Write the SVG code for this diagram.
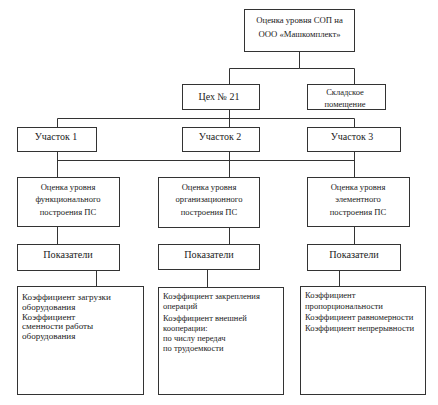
<svg xmlns="http://www.w3.org/2000/svg" width="438" height="405" viewBox="0 0 438 405">
<style>
rect{fill:#fff;stroke:#333;stroke-width:1}
text{font-family:"Liberation Serif","Times New Roman",serif;fill:#222}
.c{text-anchor:middle}
.t{font-size:8.7px}
.s{font-size:8.5px}
.m{font-size:10px}
.p{font-size:10.2px}
.b{font-size:8.6px}
.k1{font-size:9.1px}
.k2{font-size:8.5px}
#connectors path{fill:none;stroke:#333;stroke-width:1}
</style>
<rect x="0" y="0" width="438" height="405" style="fill:#fff;stroke:none"/>
<g id="connectors">
<path d="M299.5 51V68.5H229.5V84M299.5 68.5H354.5V84"/>
<path d="M229.5 109V118.5M57.5 127V118.5H354.5V127M229.5 118.5V127"/>
<path d="M57.5 151V177M229.5 151V177M354.5 151V177M57.5 160.5H354.5"/>
<path d="M57.5 226V244M229.5 227V244M354.5 226V244"/>
<path d="M96.5 270V286M207.5 269V287M339.5 270V286"/>
</g>
<g id="top"><rect x="244.5" y="9.5" width="110" height="42"/>
<text class="c t" x="299.5" y="23">Оценка уровня СОП на</text>
<text class="c t" x="299.5" y="36.5">ООО «Машкомплект»</text></g>
<g id="ceh"><rect x="182.5" y="84.5" width="77" height="25"/>
<text class="c m" x="219" y="100.3">Цех № 21</text></g>
<g id="sklad"><rect x="307.5" y="84.5" width="78" height="25"/>
<text class="c s" x="345" y="95.3">Складское</text>
<text class="c s" x="345" y="106.5">помещение</text></g>
<g id="u1"><rect x="17.5" y="127.5" width="79" height="24"/>
<text class="c m" x="56" y="140.3">Участок 1</text></g>
<g id="u2"><rect x="182.5" y="127.5" width="77" height="24"/>
<text class="c m" x="220" y="140.3">Участок 2</text></g>
<g id="u3"><rect x="307.5" y="127.5" width="93" height="24"/>
<text class="c m" x="352" y="140.3">Участок 3</text></g>
<g id="o1"><rect x="17.5" y="177.5" width="102" height="49"/>
<text class="c b" x="68" y="189.5">Оценка уровня</text>
<text class="c b" x="68" y="202">функционального</text>
<text class="c b" x="68" y="214.5">построения ПС</text></g>
<g id="o2"><rect x="158.5" y="177.5" width="101" height="50"/>
<text class="c b" x="209" y="189.5">Оценка уровня</text>
<text class="c b" x="209" y="202">организационного</text>
<text class="c b" x="209" y="214.5">построения ПС</text></g>
<g id="o3"><rect x="307.5" y="177.5" width="102" height="49"/>
<text class="c b" x="358" y="189.5">Оценка уровня</text>
<text class="c b" x="358" y="202">элементного</text>
<text class="c b" x="358" y="214.5">построения ПС</text></g>
<g id="p1"><rect x="17.5" y="244.5" width="102" height="26"/>
<text class="c p" x="68" y="258.3">Показатели</text></g>
<g id="p2"><rect x="158.5" y="244.5" width="101" height="25"/>
<text class="c p" x="209" y="258">Показатели</text></g>
<g id="p3"><rect x="307.5" y="244.5" width="93" height="26"/>
<text class="c p" x="354" y="258.3">Показатели</text></g>
<g id="k1"><rect x="17.5" y="286.5" width="126" height="108"/>
<text class="k1" x="22" y="299.5">Коэффициент загрузки</text>
<text class="k1" x="22" y="309.5">оборудования</text>
<text class="k1" x="22" y="319.5">Коэффициент</text>
<text class="k1" x="22" y="329">сменности работы</text>
<text class="k1" x="22" y="338.5">оборудования</text></g>
<g id="k2"><rect x="158.5" y="287.5" width="125" height="107"/>
<text class="k2" x="163" y="298.5">Коэффициент закрепления</text>
<text class="k2" x="163" y="309">операций</text>
<text class="k2" x="163" y="320.5">Коэффициент внешней</text>
<text class="k2" x="163" y="330.5">кооперации:</text>
<text class="k2" x="163" y="341">по числу передач</text>
<text class="k2" x="163" y="351">по трудоемкости</text></g>
<g id="k3"><rect x="300.5" y="286.5" width="125" height="108"/>
<text class="b" x="305" y="297.5">Коэффициент</text>
<text class="b" x="305" y="308.5">пропорциональности</text>
<text class="b" x="305" y="320">Коэффициент равномерности</text>
<text class="b" x="305" y="330.5">Коэффициент непрерывности</text></g>
</svg>
